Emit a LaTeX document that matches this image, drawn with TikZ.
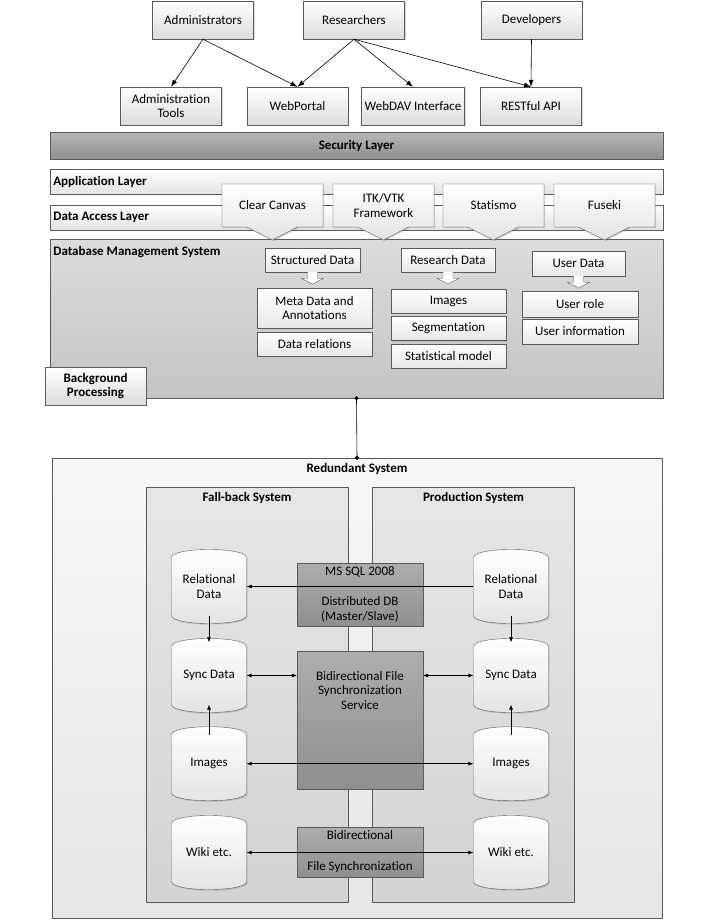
\documentclass[tikz,border=0pt]{standalone}
\usepackage{fontspec}
\setmainfont{Carlito}[Ligatures=NoCommon]
\usetikzlibrary{arrows.meta,shapes.callouts,shadows}

\definecolor{edge}{HTML}{5A5A5A}
\definecolor{secTop}{HTML}{B8B8B8}
\definecolor{secBot}{HTML}{8E8E8E}
\definecolor{dbmsTop}{HTML}{DCDCDC}
\definecolor{dbmsBot}{HTML}{C4C4C4}
\definecolor{redTop}{HTML}{F7F7F7}
\definecolor{redBot}{HTML}{E6E6E6}
\definecolor{sysTop}{HTML}{E6E6E6}
\definecolor{sysBot}{HTML}{D3D3D3}
\definecolor{darkTop}{HTML}{ADADAD}
\definecolor{darkBot}{HTML}{8F8F8F}

\newcommand{\dfont}{\fontsize{13}{14.5}\selectfont}
% cylinder: name, x, y, text
\newcommand{\dbcyl}[4]{\draw[cyl] (#2-37.5,#3-29) .. controls (#2-37.5,#3-39.7) and (#2+37.5,#3-39.7) .. (#2+37.5,#3-29) -- (#2+37.5,#3+29) .. controls (#2+37.5,#3+39.7) and (#2-37.5,#3+39.7) .. (#2-37.5,#3+29) -- cycle; \node[cyltext] (#1) at (#2,#3) {#4};}
% hollow arrow below a node
\newcommand{\hollowdown}[1]{\draw[hollow] ([xshift=-5pt]#1.south) -- ++(0,6) -- ++(-6,0) -- ++(11,6) -- ++(11,-6) -- ++(-6,0) -- ++(0,-6);}

\tikzset{
  shade/.style={drop shadow={shadow xshift=1.2pt, shadow yshift=-1.2pt, opacity=.3}},
  user/.style={draw=edge, shade, top color=white, bottom color=gray!28, minimum width=101, minimum height=38, align=center},
  seclayer/.style={draw=edge, shade, top color=secTop, bottom color=secBot, minimum width=613, minimum height=27, font=\dfont\bfseries},
  layer/.style={draw=edge, shade, top color=white, bottom color=gray!22, minimum width=613, minimum height=25},
  lbl/.style={anchor=west, font=\dfont\bfseries},
  tool/.style={rectangle callout, draw=edge, shade, top color=white, bottom color=gray!22, minimum width=101, minimum height=43, align=center, callout pointer width=51pt},
  dbms/.style={draw=edge, top color=dbmsTop, bottom color=dbmsBot, minimum width=613, minimum height=159},
  item/.style={draw=edge, shade, top color=white, bottom color=gray!18, align=center, inner sep=1pt},
  hollow/.style={draw=edge, fill=white},
  redsys/.style={draw=edge, shade, top color=redTop, bottom color=redBot, minimum width=610, minimum height=460},
  sys/.style={draw=edge, top color=sysTop, bottom color=sysBot, minimum width=202, minimum height=415},
  dark/.style={draw=edge, shade, top color=darkTop, bottom color=darkBot, minimum width=126, align=center},
  cyl/.style={draw=edge, shade, top color=white, bottom color=gray!22},
  cyltext/.style={minimum width=75, minimum height=74, inner sep=0pt, align=center},
  flow/.style={-{Latex[length=7pt,width=5pt]}, line width=0.6pt},
  sync/.style={{Latex[length=5pt,width=4pt]}-{Latex[length=5pt,width=4pt]}, line width=0.5pt},
  onedir/.style={-{Latex[length=5pt,width=4pt]}, line width=0.5pt}
}

\begin{document}
\begin{tikzpicture}[x=1pt, y=-1pt, font=\dfont]
  \useasboundingbox (0,0) rectangle (709,922);

  % users
  \node[user] (adm) at (203,20) {Administrators};
  \node[user] (res) at (354,20) {Researchers};
  \node[user] (dev) at (531.5,20) {Developers};
  % interfaces
  \node[user] (admt) at (171,106) {Administration\\Tools};
  \node[user] (web) at (297.5,106) {WebPortal};
  \node[user] (dav) at (413,106) {WebDAV Interface};
  \node[user] (rest) at (531,106) {RESTful API};
  \draw[flow] (adm.south) -- (admt.north);
  \draw[flow] (adm.south) -- (web.north);
  \draw[flow] (res.south) -- (web.north);
  \draw[flow] (res.south) -- (dav.north);
  \draw[flow] (res.south) -- (rest.north);
  \draw[flow] (dev.south) -- (rest.north);

  % layers
  \node[seclayer] (sec) at (356.5,145.5) {Security Layer};
  \node[layer, label={[lbl]west:Application Layer}] (app) at (356.5,181.5) {};
  \node[layer, label={[lbl]west:Data Access Layer}] (dal) at (356.5,217.5) {};
  \node[dbms, label={[lbl, anchor=north west, yshift=-4pt]north west:Database Management System}] (dbms) at (356.5,318.5) {};

  % tools
  \node[tool, callout absolute pointer={(272.5,240)}] (cc) at (272.5,205.5) {Clear Canvas};
  \node[tool, callout absolute pointer={(383.5,240)}] (itk) at (383.5,205.5) {ITK/VTK\\Framework};
  \node[tool, callout absolute pointer={(493.5,240)}] (stat) at (493.5,205.5) {Statismo};
  \node[tool, callout absolute pointer={(604.5,240)}] (fus) at (604.5,205.5) {Fuseki};

  % data in the dbms
  \node[item, minimum width=95, minimum height=24] (sd) at (312.5,260) {Structured Data};
  \node[item, minimum width=94, minimum height=24] (rd) at (448,260) {Research Data};
  \node[item, minimum width=93, minimum height=25] (ud) at (578.5,263.5) {User Data};
  \hollowdown{sd}
  \hollowdown{rd}
  \hollowdown{ud}
  \node[item, minimum width=115, minimum height=40] (meta) at (314.5,308) {Meta Data and\\Annotations};
  \node[item, minimum width=115, minimum height=24] (drel) at (314.5,344) {Data relations};
  \node[item, minimum width=115, minimum height=24] (img) at (448.5,301) {Images};
  \node[item, minimum width=115, minimum height=24] (seg) at (448.5,328.5) {Segmentation};
  \node[item, minimum width=115, minimum height=24] (smod) at (448.5,356) {Statistical model};
  \node[item, minimum width=116, minimum height=26] (role) at (580,304) {User role};
  \node[item, minimum width=116, minimum height=25] (uinf) at (580,331.5) {User information};
  \node[user, font=\dfont\bfseries] (bgp) at (95.5,386) {Background\\Processing};

  % redundant system
  \node[redsys, label={[lbl, anchor=north, yshift=-2pt]north:Redundant System}] (red) at (357,688) {};
  \draw[{Circle[length=4pt]}-{Circle[length=4pt]}, line width=0.6pt, shorten <=-2pt, shorten >=-2pt] (dbms.south) -- (red.north);
  \node[sys, label={[lbl, anchor=north, yshift=-2pt]north:Fall-back System}] (fb) at (247,694.5) {};
  \node[sys, label={[lbl, anchor=north, yshift=-2pt]north:Production System}] (prod) at (473.5,694.5) {};

  \node[dark, minimum height=63] (ms) at (360,594.5) {MS SQL 2008\\[15.5pt]Distributed DB\\(Master/Slave)};
  \node[dark, minimum height=138, label={[anchor=north, yshift=-17pt, align=center]north:Bidirectional File\\Synchronization\\Service}] (fss) at (360,720) {};
  \node[dark, minimum height=50] (bfs) at (360,852) {Bidirectional\\[16.5pt]File Synchronization};

  % fall-back side
  \dbcyl{relL}{209}{586.5}{Relational\\Data}
  \dbcyl{syncL}{209}{675.5}{Sync Data}
  \dbcyl{imgL}{209}{763.7}{Images}
  \dbcyl{wikiL}{209}{852.5}{Wiki etc.}
  % production side
  \dbcyl{relR}{511}{586.5}{Relational\\Data}
  \dbcyl{syncR}{511}{675.5}{Sync Data}
  \dbcyl{imgR}{511}{763.7}{Images}
  \dbcyl{wikiR}{511}{852.5}{Wiki etc.}

  \draw[onedir] (relR.west) -- (relL.east);
  \draw[onedir] ([yshift=8pt]relL.south) -- ([yshift=-4pt]syncL.north);
  \draw[onedir] ([yshift=8pt]relR.south) -- ([yshift=-4pt]syncR.north);
  \draw[onedir] ([yshift=-8pt]imgL.north) -- ([yshift=8pt]syncL.south);
  \draw[onedir] ([yshift=-8pt]imgR.north) -- ([yshift=8pt]syncR.south);
  \draw[sync] (syncL.east) -- (syncL.east -| fss.west);
  \draw[sync] (syncR.west -| fss.east) -- (syncR.west);
  \draw[sync] (imgL.east) -- (imgR.west);
  \draw[sync] (wikiL.east) -- (wikiR.west);
\end{tikzpicture}
\end{document}
